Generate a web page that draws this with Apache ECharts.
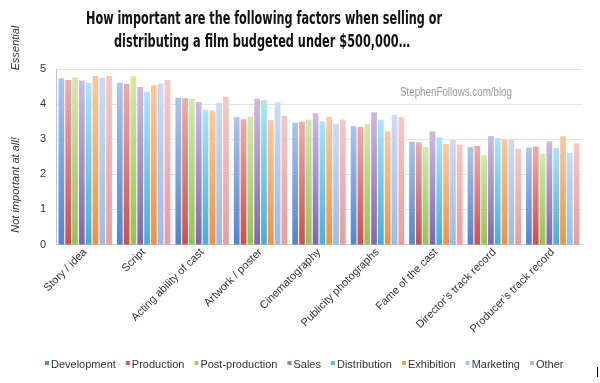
<!DOCTYPE html>
<html>
<head>
<meta charset="utf-8">
<script src="https://cdn.jsdelivr.net/npm/echarts@6/dist/echarts.min.js"></script>
<style>html,body{margin:0;padding:0;background:#fff;}#c{width:600px;height:383px;}</style>
</head>
<body>
<div id="c"></div>
<script>
const categories = ['Story / idea', 'Script', 'Acting ability of cast', 'Artwork / poster', 'Cinematography', 'Publicity photographs', 'Fame of the cast', 'Director\u2019s track record', 'Producer\u2019s track record'];
const seriesNames = ['Development', 'Production', 'Post-production', 'Sales', 'Distribution', 'Exhibition', 'Marketing', 'Other'];
const development    = [4.74, 4.61, 4.18, 3.63, 3.47, 3.37, 2.93, 2.78, 2.76];
const production     = [4.69, 4.58, 4.17, 3.57, 3.50, 3.35, 2.91, 2.81, 2.79];
const postProduction = [4.76, 4.79, 4.15, 3.65, 3.56, 3.44, 2.78, 2.54, 2.58];
const sales          = [4.67, 4.49, 4.06, 4.15, 3.74, 3.77, 3.22, 3.09, 2.94];
const distribution   = [4.61, 4.36, 3.84, 4.11, 3.51, 3.56, 3.05, 3.03, 2.76];
const exhibition     = [4.80, 4.54, 3.82, 3.55, 3.64, 3.22, 2.86, 3.00, 3.08];
const marketing      = [4.75, 4.59, 4.04, 4.05, 3.43, 3.70, 2.99, 2.99, 2.61];
const other          = [4.80, 4.69, 4.21, 3.67, 3.56, 3.63, 2.85, 2.72, 2.88];
const yTicks = [0, 1, 2, 3, 4, 5];

const seriesData = [development, production, postProduction, sales, distribution, exhibition, marketing, other];
const colorPairs = [
  ['#a9c6f0', '#4f84d2'],
  ['#f3a9a9', '#d24c4c'],
  ['#d2eaa8', '#94c451'],
  ['#cdb9e4', '#8462b3'],
  ['#a8e6fa', '#3fb1d9'],
  ['#ffc89c', '#f78f3c'],
  ['#c8dcf8', '#98bcec'],
  ['#f9c6c6', '#ec9c9c']
];
const legendColors = ['#5a8fda', '#e05b5b', '#a4d066', '#9a7cc4', '#4ec0e2', '#f89a4e', '#a6c4ee', '#f0a6a6'];

const ctx = document.createElement('canvas').getContext('2d');
function fit(text, font, w) { ctx.font = font; return w / ctx.measureText(text).width; }

const titleFont = 'bold 18px "Liberation Sans Narrow", "DejaVu Sans Condensed", sans-serif';
const t1 = 'How important are the following factors when selling or';
const t2 = 'distributing a film budgeted under $500,000\u2026';
const wmFont = '12px "Liberation Sans Narrow", "Liberation Sans", sans-serif';
const wm = 'StephenFollows.com/blog';

const chart = echarts.init(document.getElementById('c'), null, {renderer: 'canvas'});
chart.setOption({
  animation: false,
  backgroundColor: '#fff',
  grid: {left: 56, right: 18, top: 69, bottom: 138.5, containLabel: false},
  legend: {
    data: seriesNames.map((n, i) => ({name: n, itemStyle: {color: legendColors[i]}})),
    left: 40, top: 354,
    icon: 'path://M0,0L4,0L4,4L0,4Z M0,7L0.01,7L0.01,7.01Z',
    itemWidth: 4, itemHeight: 7, itemGap: 10,
    textStyle: {fontSize: 11, color: '#333', fontFamily: '"Liberation Sans", Arial, sans-serif', padding: [0, 0, 0, -3]}
  },
  xAxis: {
    type: 'category', data: categories,
    axisTick: {show: false},
    axisLine: {lineStyle: {color: '#c8c8c8'}},
    axisLabel: {rotate: 45, interval: 0, fontSize: 11, color: '#333', margin: 6, fontFamily: '"Liberation Sans", Arial, sans-serif'}
  },
  yAxis: {
    type: 'value', min: yTicks[0], max: yTicks[yTicks.length - 1], interval: 1,
    axisLine: {show: true, lineStyle: {color: '#b7c6db'}},
    axisTick: {show: false},
    splitLine: {lineStyle: {color: '#e3e3e3'}},
    axisLabel: {fontSize: 11, color: '#333', margin: 10, fontFamily: '"Liberation Sans", Arial, sans-serif'}
  },
  series: seriesNames.map((n, i) => ({
    name: n, type: 'bar', data: seriesData[i],
    barGap: '19%', barCategoryGap: '8.6%',
    itemStyle: {color: new echarts.graphic.LinearGradient(0, 0, 0, 1, [
      {offset: 0, color: colorPairs[i][0]}, {offset: 1, color: colorPairs[i][1]}])}
  })),
  graphic: [
    {type: 'text', x: 264, y: 19, scaleX: fit(t1, titleFont, 356),
     style: {text: t1, font: titleFont, fill: '#111', textAlign: 'center', textVerticalAlign: 'middle'}},
    {type: 'text', x: 262, y: 42, scaleX: fit(t2, titleFont, 296),
     style: {text: t2, font: titleFont, fill: '#111', textAlign: 'center', textVerticalAlign: 'middle'}},
    {type: 'text', x: 400, y: 93, scaleX: fit(wm, wmFont, 112),
     style: {text: wm, font: wmFont, fill: '#9a9a9a', textAlign: 'left', textVerticalAlign: 'middle'}},
    {type: 'text', x: 16, y: 48, rotation: Math.PI / 2,
     style: {text: 'Essential', font: 'italic 11px "Liberation Sans", Arial, sans-serif', fill: '#333', textAlign: 'center', textVerticalAlign: 'middle'}},
    {type: 'text', x: 16, y: 185, rotation: Math.PI / 2,
     style: {text: 'Not important at all!', font: 'italic 11px "Liberation Sans", Arial, sans-serif', fill: '#333', textAlign: 'center', textVerticalAlign: 'middle'}},
    {type: 'line', shape: {x1: 597.5, y1: 367, x2: 597.5, y2: 377}, style: {stroke: '#000', lineWidth: 1}}
  ]
});
</script>
</body>
</html>
